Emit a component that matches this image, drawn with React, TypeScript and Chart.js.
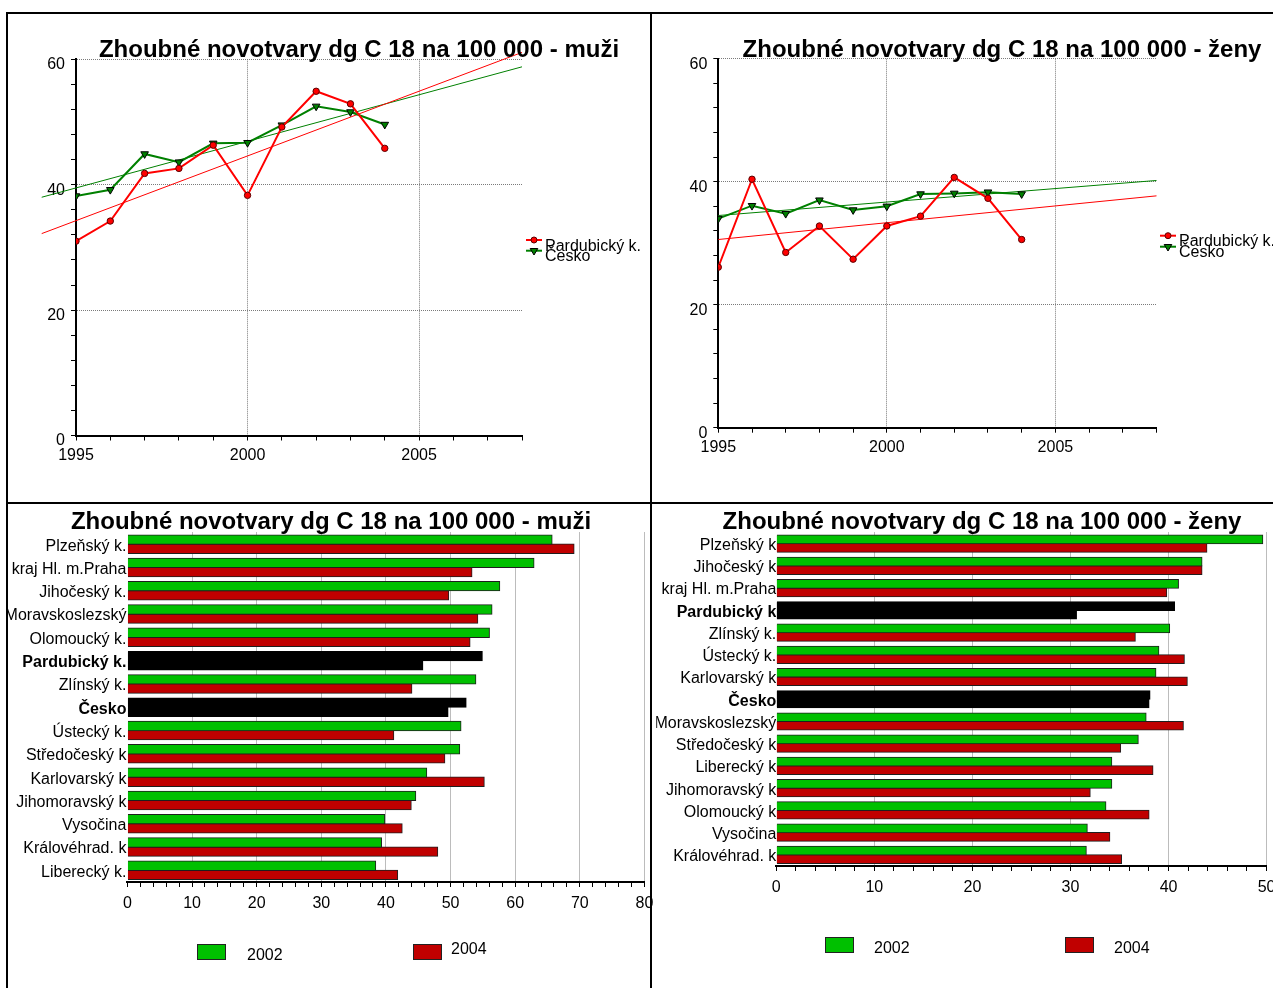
import React, { useEffect, useRef } from "react";
import { Chart, registerables } from "chart.js";

Chart.register(...registerables);

const PAGE_W = 1273;
const PAGE_H = 988;
const FONT = "'Liberation Sans', Arial, Helvetica, sans-serif";

// ---------------- data ----------------
const years = [1995, 1996, 1997, 1998, 1999, 2000, 2001, 2002, 2003, 2004];
const muziPardubicky = [31.0, 34.2, 41.8, 42.6, 46.3, 38.3, 49.2, 54.9, 52.9, 45.8];
const muziCesko = [38.2, 39.2, 44.9, 43.6, 46.6, 46.7, 49.5, 52.5, 51.6, 49.6];
const muziTrendYears = [1994, 2008];
const muziTrendPardubicky = [32.2, 61.1];
const muziTrendCesko = [38.0, 58.8];

const zenyPardubicky = [26.1, 40.4, 28.5, 32.8, 27.4, 32.8, 34.4, 40.7, 37.3, 30.6];
const zenyCesko = [34.0, 36.1, 34.8, 37.0, 35.4, 36.0, 38.0, 38.1, 38.3, 38.0];
const zenyTrendYears = [1995, 2008];
const zenyTrendPardubicky = [30.6, 37.7];
const zenyTrendCesko = [34.5, 40.2];

const lineSeriesNames = ["Pardubický k.", "Česko"];
const yearRange = [1995, 2008];
const lineValueRange = [0, 60];

const muziRegions = [
  "Plzeňský k.", "kraj Hl. m.Praha", "Jihočeský k.", "Moravskoslezský", "Olomoucký k.",
  "Pardubický k.", "Zlínský k.", "Česko", "Ústecký k.", "Středočeský k",
  "Karlovarský k", "Jihomoravský k", "Vysočina", "Královéhrad. k", "Liberecký k.",
];
const muzi2002 = [65.7, 62.9, 57.6, 56.4, 56.0, 54.9, 53.9, 52.4, 51.6, 51.4, 46.3, 44.6, 39.8, 39.3, 38.4];
const muzi2004 = [69.1, 53.3, 49.7, 54.2, 53.0, 45.7, 44.0, 49.6, 41.2, 49.1, 55.2, 43.9, 42.5, 48.0, 41.8];

const zenyRegions = [
  "Plzeňský k", "Jihočeský k", "kraj Hl. m.Praha", "Pardubický k", "Zlínský k.",
  "Ústecký k.", "Karlovarský k", "Česko", "Moravskoslezský", "Středočeský k",
  "Liberecký k", "Jihomoravský k", "Olomoucký k", "Vysočina", "Královéhrad. k",
];
const zeny2002 = [49.6, 43.4, 41.0, 40.6, 40.1, 39.0, 38.7, 38.1, 37.7, 36.9, 34.2, 34.2, 33.6, 31.7, 31.6];
const zeny2004 = [43.9, 43.4, 39.8, 30.6, 36.6, 41.6, 41.9, 38.0, 41.5, 35.1, 38.4, 32.0, 38.0, 34.0, 35.2];

const barSeriesNames = ["2002", "2004"];
const highlightedRegions = ["Pardubický", "Česko"];
const muziBarMax = 80;
const zenyBarMax = 50;

const titleMuzi = "Zhoubné novotvary dg C 18 na 100 000 - muži";
const titleZeny = "Zhoubné novotvary dg C 18 na 100 000 - ženy";

// ---------------- styles ----------------
const RED_LINE = "#ff0000";
const GREEN_LINE = "#008000";
const GREEN_BAR = "#00c000";
const RED_BAR = "#c00000";
const GRID = "#7a7a7a";

Chart.defaults.font.family = FONT;
Chart.defaults.color = "#000";

type Area = { l: number; t: number; r: number; b: number };

const pts = (xs: number[], ys: number[]) => xs.map((x, i) => ({ x, y: ys[i] }));
const isHi = (r: string) => highlightedRegions.some((h) => r.startsWith(h));

function drawTitle(ctx: CanvasRenderingContext2D, text: string, cx: number, by: number) {
  ctx.font = `bold 24px ${FONT}`;
  ctx.fillStyle = "#000";
  ctx.textAlign = "center";
  ctx.textBaseline = "alphabetic";
  ctx.fillText(text, cx, by);
}

function drawLineLegend(ctx: CanvasRenderingContext2D, x: number, yRed: number, yGreen: number) {
  const items = [
    { y: yRed, color: RED_LINE, kind: "circle", label: lineSeriesNames[0] },
    { y: yGreen, color: GREEN_LINE, kind: "tri", label: lineSeriesNames[1] },
  ];
  for (const it of items) {
    ctx.strokeStyle = it.color;
    ctx.lineWidth = 2;
    ctx.beginPath();
    ctx.moveTo(x, it.y);
    ctx.lineTo(x + 16, it.y);
    ctx.stroke();
    const mx = x + 8;
    ctx.fillStyle = it.color;
    ctx.strokeStyle = it.kind === "circle" ? "#5a0000" : "#000";
    ctx.lineWidth = 1;
    ctx.beginPath();
    if (it.kind === "circle") {
      ctx.arc(mx, it.y, 3, 0, Math.PI * 2);
    } else {
      ctx.moveTo(mx - 3.8, it.y - 2.2);
      ctx.lineTo(mx + 3.8, it.y - 2.2);
      ctx.lineTo(mx, it.y + 4.3);
      ctx.closePath();
    }
    ctx.fill();
    ctx.stroke();
    ctx.fillStyle = "#000";
    ctx.font = `16px ${FONT}`;
    ctx.textAlign = "left";
    ctx.textBaseline = "alphabetic";
    ctx.fillText(it.label, x + 19, it.y + 10.5);
  }
}

function drawBarLegend(
  ctx: CanvasRenderingContext2D,
  items: { x: number; y: number; tx: number; ty: number; color: string; label: string }[]
) {
  for (const it of items) {
    ctx.fillStyle = it.color;
    ctx.fillRect(it.x, it.y, 28, 15);
    ctx.strokeStyle = "#222";
    ctx.lineWidth = 1;
    ctx.strokeRect(it.x + 0.5, it.y + 0.5, 28, 15);
    ctx.fillStyle = "#000";
    ctx.font = `16px ${FONT}`;
    ctx.textAlign = "left";
    ctx.textBaseline = "alphabetic";
    ctx.fillText(it.label, it.tx, it.ty);
  }
}

const decor = (draw: (ctx: CanvasRenderingContext2D) => void) => ({
  id: "decor",
  afterDraw(chart: any) {
    const ctx = chart.ctx as CanvasRenderingContext2D;
    ctx.save();
    draw(ctx);
    ctx.restore();
  },
});

const fixHeight = (h: number) => (s: any) => {
  s.height = h;
  s.paddingLeft = 0;
  s.paddingRight = 0;
};
const fixWidth = (w: number) => (s: any) => {
  s.width = w;
  s.paddingTop = 0;
  s.paddingBottom = 0;
};

function lineChartConfig(p: {
  pard: number[];
  cesko: number[];
  tYears: number[];
  tPard: number[];
  tCesko: number[];
  area: Area;
  title: string;
  titleX: number;
  legendX: number;
  legendY: [number, number];
}): any {
  const YW = 40;
  const XH = 40;
  const a = p.area;
  return {
    type: "line",
    data: {
      datasets: [
        {
          label: lineSeriesNames[0],
          data: pts(years, p.pard),
          borderColor: RED_LINE,
          backgroundColor: RED_LINE,
          borderWidth: 2,
          pointStyle: "circle",
          pointRadius: 3.2,
          pointBackgroundColor: RED_LINE,
          pointBorderColor: "#5a0000",
          pointBorderWidth: 1,
          tension: 0,
        },
        {
          label: lineSeriesNames[1],
          data: pts(years, p.cesko),
          borderColor: GREEN_LINE,
          backgroundColor: GREEN_LINE,
          borderWidth: 2,
          pointStyle: "triangle",
          pointRotation: 180,
          pointRadius: 4.4,
          pointBackgroundColor: GREEN_LINE,
          pointBorderColor: "#000",
          pointBorderWidth: 1,
          tension: 0,
        },
        {
          label: "trend " + lineSeriesNames[0],
          data: pts(p.tYears, p.tPard),
          borderColor: RED_LINE,
          borderWidth: 1,
          pointRadius: 0,
          clip: false,
        },
        {
          label: "trend " + lineSeriesNames[1],
          data: pts(p.tYears, p.tCesko),
          borderColor: GREEN_LINE,
          borderWidth: 1,
          pointRadius: 0,
          clip: false,
        },
      ],
    },
    options: {
      responsive: false,
      animation: false,
      devicePixelRatio: 1,
      events: [],
      layout: {
        padding: { left: a.l - YW, top: a.t, right: PAGE_W - a.r, bottom: PAGE_H - a.b - XH },
      },
      plugins: { legend: { display: false }, title: { display: false }, tooltip: { enabled: false } },
      scales: {
        x: {
          type: "linear",
          min: yearRange[0],
          max: yearRange[1],
          afterFit: fixHeight(XH),
          border: { color: "#000", width: 2, dash: [1, 1] },
          grid: {
            color: (c: any) =>
              c.tick && c.tick.value % 5 === 0 && c.tick.value > yearRange[0] ? GRID : "rgba(0,0,0,0)",
            lineWidth: 1,
            tickColor: "#000",
            tickLength: 5,
          },
          ticks: {
            stepSize: 1,
            autoSkip: false,
            maxRotation: 0,
            padding: 5,
            color: "#000",
            font: { size: 16, family: FONT },
            callback: (v: any) => (Math.round(v) % 5 === 0 ? String(Math.round(v)) : ""),
          },
        },
        y: {
          type: "linear",
          min: lineValueRange[0],
          max: lineValueRange[1],
          afterFit: fixWidth(YW),
          border: { color: "#000", width: 2, dash: [1, 1] },
          grid: {
            color: (c: any) =>
              c.tick && Math.round(c.tick.value) % 20 === 0 && c.tick.value > 0 ? GRID : "rgba(0,0,0,0)",
            lineWidth: 1,
            tickColor: "#000",
            tickLength: 5,
          },
          ticks: {
            stepSize: 4,
            autoSkip: false,
            padding: 6,
            labelOffset: 5.5,
            color: "#000",
            font: { size: 16, family: FONT },
            callback: (v: any) => (Math.round(v) % 20 === 0 ? String(Math.round(v)) : ""),
          },
        },
      },
    },
    plugins: [
      decor((ctx) => {
        drawTitle(ctx, p.title, p.titleX, 57);
        drawLineLegend(ctx, p.legendX, p.legendY[0], p.legendY[1]);
      }),
    ],
  };
}

function barChartConfig(p: {
  regions: string[];
  v2002: number[];
  v2004: number[];
  max: number;
  area: Area;
  catPct: number;
  labelPad: number;
  title: string;
  titleX: number;
  legend: { x: number; y: number; tx: number; ty: number }[];
}): any {
  const YW = 120;
  const XH = 40;
  const a = p.area;
  return {
    type: "bar",
    data: {
      labels: p.regions,
      datasets: [
        {
          label: barSeriesNames[0],
          data: p.v2002,
          backgroundColor: p.regions.map((r) => (isHi(r) ? "#000" : GREEN_BAR)),
          borderColor: p.regions.map((r) => (isHi(r) ? "#000" : "#1e1e1e")),
          borderWidth: 1,
          inflateAmount: 0.6,
        },
        {
          label: barSeriesNames[1],
          data: p.v2004,
          backgroundColor: p.regions.map((r) => (isHi(r) ? "#000" : RED_BAR)),
          borderColor: p.regions.map((r) => (isHi(r) ? "#000" : "#1e1e1e")),
          borderWidth: 1,
          inflateAmount: 0.6,
        },
      ],
    },
    options: {
      indexAxis: "y",
      responsive: false,
      animation: false,
      devicePixelRatio: 1,
      events: [],
      layout: {
        padding: { left: a.l - YW, top: a.t, right: PAGE_W - a.r, bottom: PAGE_H - a.b - XH },
      },
      datasets: { bar: { categoryPercentage: p.catPct, barPercentage: 1 } },
      plugins: { legend: { display: false }, title: { display: false }, tooltip: { enabled: false } },
      scales: {
        x: {
          type: "linear",
          min: 0,
          max: p.max,
          afterFit: fixHeight(XH),
          border: { color: "#000", width: 2, dash: [1, 1] },
          grid: {
            color: (c: any) =>
              c.tick && Math.round(c.tick.value) % 10 === 0 && c.tick.value > 0 ? GRID : "rgba(0,0,0,0)",
            lineWidth: 1,
            tickColor: "#000",
            tickLength: 5,
          },
          ticks: {
            stepSize: 2,
            autoSkip: false,
            maxRotation: 0,
            padding: 7,
            color: "#000",
            font: { size: 16, family: FONT },
            callback: (v: any) => (Math.round(v) % 10 === 0 ? String(Math.round(v)) : ""),
          },
        },
        y: {
          type: "category",
          z: 1,
          afterFit: fixWidth(YW),
          grid: { display: false, drawTicks: false, tickLength: 0 },
          border: { display: false },
          ticks: {
            autoSkip: false,
            padding: p.labelPad,
            labelOffset: 2,
            color: "#000",
            font: (c: any) => ({
              size: 16,
              family: FONT,
              weight: isHi(p.regions[c.index] || "") ? "bold" : "normal",
            }),
          },
        },
      },
    },
    plugins: [
      decor((ctx) => {
        drawTitle(ctx, p.title, p.titleX, 528.5);
        drawBarLegend(ctx, [
          { ...p.legend[0], color: GREEN_BAR, label: barSeriesNames[0] },
          { ...p.legend[1], color: RED_BAR, label: barSeriesNames[1] },
        ]);
      }),
    ],
  };
}

function ChartLayer({ build }: { build: () => any }) {
  const ref = useRef<HTMLCanvasElement>(null);
  useEffect(() => {
    const chart = new Chart(ref.current as HTMLCanvasElement, build());
    return () => chart.destroy();
  }, []);
  return (
    <canvas
      ref={ref}
      width={PAGE_W}
      height={PAGE_H}
      style={{ position: "absolute", left: 0, top: 0, width: PAGE_W, height: PAGE_H }}
    />
  );
}

const line = (left: number, top: number, width: number, height: number) => (
  <div style={{ position: "absolute", left, top, width, height, background: "#000" }} />
);

export default function App() {
  return (
    <div
      style={{
        position: "absolute",
        left: 0,
        top: 0,
        width: PAGE_W,
        height: PAGE_H,
        background: "#fff",
        overflow: "hidden",
      }}
    >
      <ChartLayer
        build={() =>
          lineChartConfig({
            pard: muziPardubicky,
            cesko: muziCesko,
            tYears: muziTrendYears,
            tPard: muziTrendPardubicky,
            tCesko: muziTrendCesko,
            area: { l: 76, t: 59.3, r: 522, b: 435.5 },
            title: titleMuzi,
            titleX: 359,
            legendX: 526,
            legendY: [240, 250.7],
          })
        }
      />
      <ChartLayer
        build={() =>
          lineChartConfig({
            pard: zenyPardubicky,
            cesko: zenyCesko,
            tYears: zenyTrendYears,
            tPard: zenyTrendPardubicky,
            tCesko: zenyTrendCesko,
            area: { l: 718.3, t: 58.7, r: 1156.5, b: 427.7 },
            title: titleZeny,
            titleX: 1002,
            legendX: 1160,
            legendY: [235.7, 246.7],
          })
        }
      />
      <ChartLayer
        build={() =>
          barChartConfig({
            regions: muziRegions,
            v2002: muzi2002,
            v2004: muzi2004,
            max: muziBarMax,
            area: { l: 127.4, t: 532.5, r: 644.4, b: 882 },
            catPct: 0.785,
            labelPad: 1,
            title: titleMuzi,
            titleX: 331,
            legend: [
              { x: 197, y: 944, tx: 247, ty: 959.5 },
              { x: 413, y: 944, tx: 451, ty: 954 },
            ],
          })
        }
      />
      <ChartLayer
        build={() =>
          barChartConfig({
            regions: zenyRegions,
            v2002: zeny2002,
            v2004: zeny2004,
            max: zenyBarMax,
            area: { l: 776.3, t: 532.5, r: 1266.6, b: 866 },
            catPct: 0.765,
            labelPad: 0,
            title: titleZeny,
            titleX: 982,
            legend: [
              { x: 825, y: 937, tx: 874, ty: 952.5 },
              { x: 1065, y: 937, tx: 1114, ty: 952.5 },
            ],
          })
        }
      />
      {line(6, 12, PAGE_W - 6, 2)}
      {line(6, 12, 2, PAGE_H - 12)}
      {line(650, 12, 2, PAGE_H - 12)}
      {line(6, 502, PAGE_W - 6, 2)}
    </div>
  );
}
